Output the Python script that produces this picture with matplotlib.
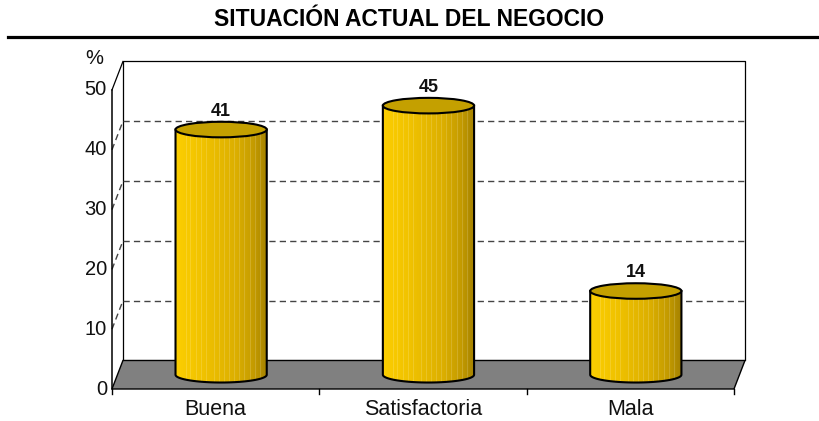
import numpy as np
import matplotlib
matplotlib.use("Agg")
import matplotlib.pyplot as plt
from matplotlib.patches import Ellipse, Polygon, PathPatch
from matplotlib.path import Path
from matplotlib.lines import Line2D

plt.rcParams['font.family'] = ['Liberation Sans', 'DejaVu Sans']

# datos
categorias = ["Buena", "Satisfactoria", "Mala"]
porcentajes = [41, 45, 14]
ticks_y = [0, 10, 20, 30, 40, 50]
titulo = "SITUACIÓN ACTUAL DEL NEGOCIO"

# profundidad de la caja 3d (unidades de datos)
prof_x = 0.053
prof_y = 4.77
ancho = 0.44        # diametro del cilindro
alto_elipse = 2.6   # alto de las tapas

fig = plt.figure(figsize=(8.19, 4.21), dpi=100)
ax = fig.add_axes([0, 0, 1, 1])
ax.axis('off')

n = len(categorias)
ymax = ticks_y[-1]

# pared del fondo
pared = Polygon([(prof_x, prof_y), (n + prof_x, prof_y), (n + prof_x, ymax + prof_y), (prof_x, ymax + prof_y)],
                closed=True, facecolor='white', edgecolor='none', zorder=0)
ax.add_patch(pared)
ax.plot([prof_x, prof_x, n + prof_x, n + prof_x], [prof_y, ymax + prof_y, ymax + prof_y, prof_y],
        color='black', lw=0.9, zorder=1)
ax.plot([0, prof_x], [ymax, ymax + prof_y], color='black', lw=0.9, zorder=1)

# lineas de division
for t in ticks_y[1:-1]:
    ax.plot([prof_x, n + prof_x], [t + prof_y, t + prof_y], color='#444444', lw=1,
            linestyle=(0, (4.5, 3)), zorder=1)
    ax.plot([0, prof_x], [t, t + prof_y], color='#444444', lw=1,
            linestyle=(0, (4.5, 3)), zorder=1)

# piso
piso = Polygon([(0, 0), (n, 0), (n + prof_x, prof_y), (prof_x, prof_y)], closed=True,
               facecolor='#808080', edgecolor='black', lw=1, zorder=2)
ax.add_patch(piso)

# eje vertical y marcas de categoria
ax.plot([0, 0], [0, ymax], color='black', lw=1.1, zorder=3)
for i in range(n + 1):
    ax.plot([i, i], [0, -0.9], color='black', lw=1, zorder=3)

for t in ticks_y:
    ax.text(-0.024, t, str(t), ha='right', va='center', fontsize=14.5, color='#111111')
ax.text(-0.043, 55.3, '%', ha='right', va='center', fontsize=14.5, color='#111111')

for i, c in enumerate(categorias):
    ax.text(i + 0.5, -3.5, c, ha='center', va='center', fontsize=15.5, color='#111111')

# degradado del cilindro
pos = np.array([0.0, 0.3, 0.65, 0.85, 1.0])
cols = np.array([[252, 206, 0], [240, 194, 0], [220, 175, 0], [196, 155, 0], [165, 130, 0]]) / 255.0
xs = np.linspace(0, 1, 100)
grad = np.stack([np.interp(xs, pos, cols[:, k]) for k in range(3)], axis=-1)
rayas = [6, 11, 15, 22, 27, 33, 41, 47, 52, 58, 63, 69, 74, 80, 86, 91]
for r in rayas:
    grad[r] = grad[r] * 0.85 + 0.15
grad = grad[np.newaxis, :, :]

for i, v in enumerate(porcentajes):
    cx = i + 0.5 + prof_x / 2
    y0 = prof_y / 2
    y1 = v + prof_y / 2
    a = ancho / 2
    b = alto_elipse / 2
    ang = np.linspace(np.pi, 2 * np.pi, 60)
    verts = [(cx - a, y1), (cx - a, y0)]
    verts += list(zip(cx + a * np.cos(ang), y0 + b * np.sin(ang)))
    verts += [(cx + a, y1), (cx - a, y1)]
    codes = [Path.MOVETO] + [Path.LINETO] * (len(verts) - 2) + [Path.CLOSEPOLY]
    cuerpo = PathPatch(Path(verts, codes), facecolor='none', edgecolor='black', lw=1.5, zorder=5)
    ax.add_patch(cuerpo)
    img = ax.imshow(grad, extent=[cx - a, cx + a, y0 - b, y1], aspect='auto', zorder=4,
                    interpolation='nearest')
    img.set_clip_path(cuerpo)
    tapa = Ellipse((cx, y1), ancho, alto_elipse, facecolor='#C4A000', edgecolor='black', lw=1.5, zorder=6)
    ax.add_patch(tapa)
    ax.annotate(str(v), (cx, y1), xytext=(0, 14), textcoords='offset pixels', ha='center',
                va='baseline', fontsize=13, fontweight='bold', color='#111111', zorder=7)

ax.set_xlim(-0.540, 3.410)
ax.set_ylim(-5.351, 65.05)

# titulo y linea
fig.text(0.5, 1 - 20 / 421, titulo, ha='center', va='center', fontsize=16.5, fontweight='bold')
fig.add_artist(Line2D([8 / 819, 1], [1 - 36.5 / 421, 1 - 36.5 / 421], color='black', lw=2.3))

fig.savefig('out.png', dpi=100)
